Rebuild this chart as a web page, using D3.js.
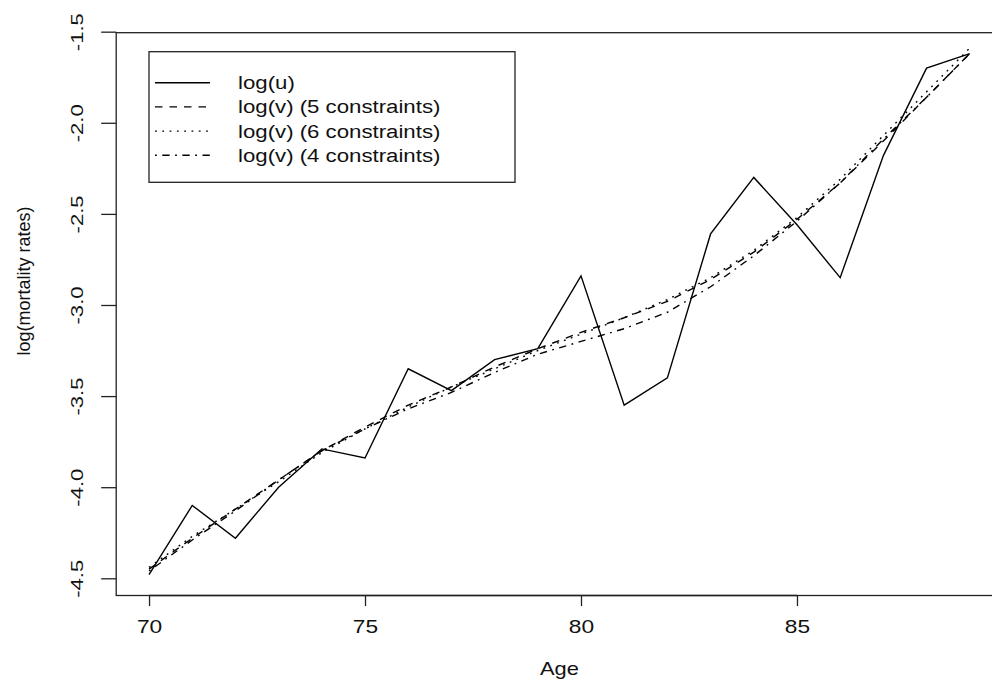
<!DOCTYPE html>
<html>
<head>
<meta charset="utf-8">
<script src="https://cdn.jsdelivr.net/npm/d3@7"></script>
<style>
  body { margin: 0; background: #fff; }
  svg text { font-family: "Liberation Sans", Arial, sans-serif; fill: #111; }
</style>
</head>
<body>
<svg id="chart" width="992" height="680"></svg>
<script>
// ages on the x axis
const ages = d3.range(70, 90);

// observed log(u)
const logU = [-4.48, -4.10, -4.28, -4.00, -3.79, -3.84, -3.35, -3.47, -3.30, -3.24,
              -2.84, -3.55, -3.40, -2.61, -2.30, -2.56, -2.85, -2.18, -1.70, -1.62];

// graduated log(v), 5 constraints (dashed)
const logV5 = [-4.45, -4.28, -4.12, -3.96, -3.80, -3.67, -3.55, -3.45, -3.34, -3.24,
               -3.15, -3.07, -2.98, -2.86, -2.71, -2.53, -2.33, -2.10, -1.86, -1.62];

// graduated log(v), 6 constraints (dotted)
const logV6 = [-4.44, -4.27, -4.12, -3.97, -3.81, -3.68, -3.56, -3.45, -3.35, -3.25,
               -3.16, -3.07, -2.97, -2.85, -2.70, -2.52, -2.31, -2.07, -1.83, -1.59];

// graduated log(v), 4 constraints (dot-dash)
const logV4 = [-4.46, -4.29, -4.13, -3.96, -3.80, -3.68, -3.57, -3.48, -3.37, -3.27,
               -3.20, -3.13, -3.04, -2.90, -2.73, -2.54, -2.33, -2.09, -1.86, -1.62];

const xTicks = [70, 75, 80, 85];
const yTicks = [-4.5, -4.0, -3.5, -3.0, -2.5, -2.0, -1.5];

const legendLabels = ["log(u)", "log(v) (5 constraints)", "log(v) (6 constraints)", "log(v) (4 constraints)"];
const dashes = [null, "7.5,7", "1.8,5.5", "1.8,5.5,7.3,5.5"];

const series = [logU, logV5, logV6, logV4];

// plot region like R's default (4% padding on the log(u) range)
const plot = { left: 116.2, right: 1002.6, top: 32.7, bottom: 595.5 };

function padded(ext) {
  const p = (ext[1] - ext[0]) * 0.04;
  return [ext[0] - p, ext[1] + p];
}

const x = d3.scaleLinear().domain(padded(d3.extent(ages))).range([plot.left, plot.right]);
const y = d3.scaleLinear().domain(padded(d3.extent(logU))).range([plot.bottom, plot.top]);

const svg = d3.select("#chart");

// series lines
const line = d3.line()
  .x((d, i) => x(ages[i]))
  .y(d => y(d));

svg.append("g")
  .selectAll("path")
  .data(series)
  .join("path")
  .attr("d", d => line(d))
  .attr("fill", "none")
  .attr("stroke", "#000")
  .attr("stroke-width", 1.4)
  .attr("stroke-dasharray", (d, i) => dashes[i]);

// box
svg.append("rect")
  .attr("x", plot.left)
  .attr("y", plot.top)
  .attr("width", plot.right - plot.left)
  .attr("height", plot.bottom - plot.top)
  .attr("fill", "none")
  .attr("stroke", "#222")
  .attr("stroke-width", 1.3);

// x axis
const xAxis = svg.append("g")
  .attr("transform", `translate(0,${plot.bottom})`)
  .call(d3.axisBottom(x).tickValues(xTicks).tickSize(10.5).tickSizeOuter(0));
xAxis.select(".domain").remove();
xAxis.selectAll("line").attr("stroke", "#222").attr("stroke-width", 1.3);
xAxis.selectAll("text")
  .attr("y", null).attr("dy", null)
  .attr("font-size", 17.5)
  .attr("transform", "translate(0,37.8) scale(1.3,1)");
svg.append("line")
  .attr("x1", x(70)).attr("x2", x(85))
  .attr("y1", plot.bottom).attr("y2", plot.bottom)
  .attr("stroke", "#222").attr("stroke-width", 1.3);

// y axis
const yAxis = svg.append("g")
  .attr("transform", `translate(${plot.left},0)`)
  .call(d3.axisLeft(y).tickValues(yTicks).tickFormat(d => d.toFixed(1)).tickSize(15).tickSizeOuter(0));
yAxis.select(".domain").remove();
yAxis.selectAll("line").attr("stroke", "#222").attr("stroke-width", 1.3);
yAxis.selectAll("text")
  .attr("x", null).attr("dy", null)
  .attr("text-anchor", "middle")
  .attr("font-size", 17)
  .attr("transform", "translate(-33,0) rotate(-90) scale(1.3,1)");

// axis titles
svg.append("text")
  .attr("text-anchor", "middle")
  .attr("font-size", 17.5)
  .attr("transform", `translate(${(plot.left + plot.right) / 2},674.5) scale(1.25,1)`)
  .text("Age");

svg.append("text")
  .attr("text-anchor", "middle")
  .attr("font-size", 18)
  .attr("transform", "translate(30,281) rotate(-90)")
  .text("log(mortality rates)");

// legend
const legend = svg.append("g");
legend.append("rect")
  .attr("x", 149).attr("y", 51.7)
  .attr("width", 366).attr("height", 130.6)
  .attr("fill", "#fff")
  .attr("stroke", "#222")
  .attr("stroke-width", 1.3);

const rows = legend.selectAll("g.row")
  .data(legendLabels)
  .join("g")
  .attr("class", "row")
  .attr("transform", (d, i) => `translate(0,${82.7 + i * 24.2})`);

rows.append("line")
  .attr("x1", 155).attr("x2", 210)
  .attr("stroke", "#000")
  .attr("stroke-width", 1.4)
  .attr("stroke-dasharray", (d, i) => dashes[i]);

rows.append("text")
  .attr("font-size", 19)
  .attr("transform", "translate(238,6.5) scale(1.17,1)")
  .text(d => d);
</script>
</body>
</html>
